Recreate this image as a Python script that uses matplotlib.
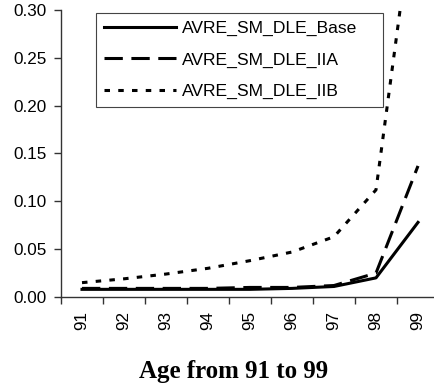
import matplotlib
matplotlib.use('Agg')
import matplotlib.pyplot as plt

# 数据
ages = ['91', '92', '93', '94', '95', '96', '97', '98', '99']
base = [0.008, 0.008, 0.008, 0.008, 0.008, 0.009, 0.011, 0.020, 0.078]
iia = [0.009, 0.009, 0.009, 0.009, 0.010, 0.010, 0.012, 0.025, 0.137]
iib = [0.015, 0.019, 0.024, 0.030, 0.038, 0.047, 0.063, 0.112, 0.44]
names = ['AVRE_SM_DLE_Base', 'AVRE_SM_DLE_IIA', 'AVRE_SM_DLE_IIB']

plt.rcParams['font.family'] = ['Liberation Sans', 'DejaVu Sans']

fig = plt.figure(figsize=(4.34, 3.90), dpi=100)
ax = fig.add_axes([61 / 434, 93 / 390, 1 - 61 / 434, 287 / 390])

x = list(range(1, len(ages) + 1))
ax.plot(x, base, color='black', lw=2.2, ls='-', label=names[0])
ax.plot(x, iia, color='black', lw=2.2, ls=(0, (6, 2.8)), label=names[1])
ax.plot(x, iib, color='black', lw=2.2, ls=(0, (1.8, 2.7)), label=names[2])

ax.set_xlim(0.5, 0.5 + 373 / 42)
ax.set_ylim(0, 0.30)
ax.set_yticks([0, 0.05, 0.10, 0.15, 0.20, 0.25, 0.30])
ax.set_yticklabels(['0.00', '0.05', '0.10', '0.15', '0.20', '0.25', '0.30'], fontsize=12.3)

# 刻度线在类别之间，标签在类别中心
ax.set_xticks([i + 0.5 for i in range(0, 9)])
ax.set_xticklabels([])
ax.set_xticks(x, minor=True)
ax.set_xticklabels(ages, minor=True, rotation=90, fontsize=12.3)
ax.tick_params(axis='x', which='minor', length=0, pad=10)
ax.tick_params(axis='both', which='major', length=5, width=1, color='#333333', direction='out')
ax.tick_params(axis='y', which='major', pad=5.5)

for s in ['top', 'right']:
    ax.spines[s].set_visible(False)
for s in ['left', 'bottom']:
    ax.spines[s].set_color('#333333')
    ax.spines[s].set_linewidth(1)

leg = ax.legend(loc='upper left', bbox_to_anchor=(35 / 373, 0, 287 / 373, 1 - 3 / 287),
                mode='expand', borderaxespad=0,
                fontsize=12.6, handlelength=4.1, handletextpad=0.35, labelspacing=0.92,
                borderpad=0.45, fancybox=False, framealpha=1, edgecolor='#444444')
leg.get_frame().set_linewidth(0.8)

fig.text(234 / 434, 1 - 378 / 390, 'Age from 91 to 99', ha='center', va='baseline',
         fontsize=18, fontweight='bold', family='Liberation Serif')

fig.savefig('out.png', dpi=100)
